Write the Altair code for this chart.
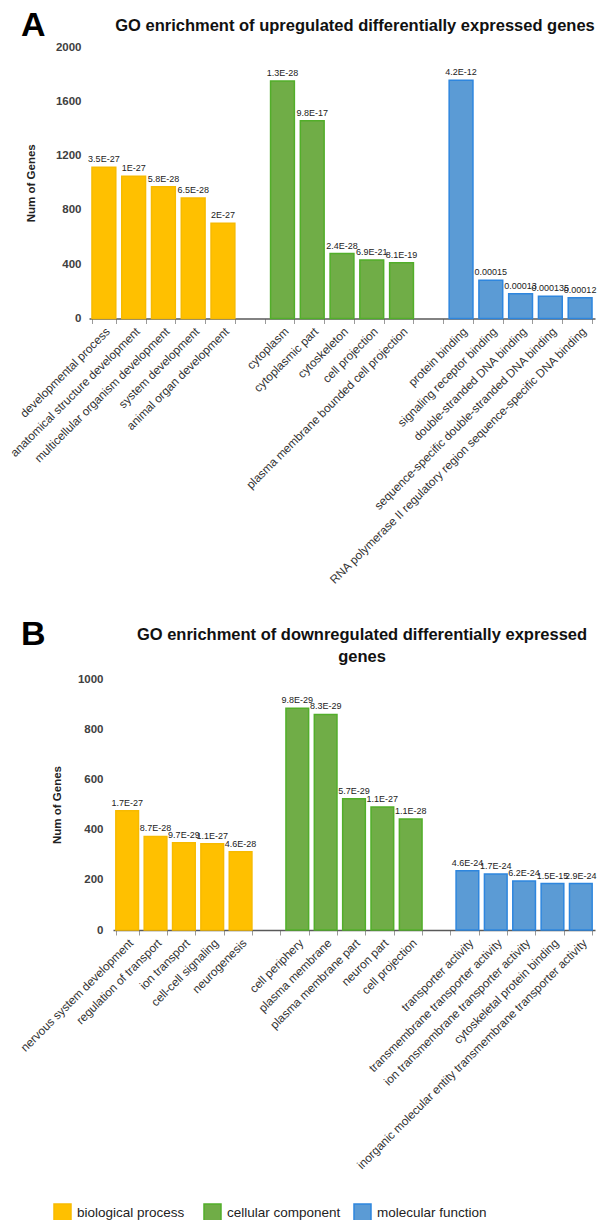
import altair as alt
import pandas as pd

GROUPS = ["biological process", "cellular component", "molecular function"]
FILLS = ["#FFC000", "#70AD47", "#5B9BD5"]
STROKES = ["#F7BA00", "#52AE2A", "#2E86DE"]

# ---- Panel A: upregulated ----
a_bp_terms = ["developmental process", "anatomical structure development",
              "multicellular organism development", "system development",
              "animal organ development"]
a_bp_counts = [1115, 1048, 970, 887, 702]
a_bp_pvals = ["3.5E-27", "1E-27", "5.8E-28", "6.5E-28", "2E-27"]

a_cc_terms = ["cytoplasm", "cytoplasmic part", "cytoskeleton", "cell projection",
              "plasma membrane bounded cell projection"]
a_cc_counts = [1750, 1457, 478, 431, 411]
a_cc_pvals = ["1.3E-28", "9.8E-17", "2.4E-28", "6.9E-21", "8.1E-19"]

a_mf_terms = ["protein binding", "signaling receptor binding",
              "double-stranded DNA binding",
              "sequence-specific double-stranded DNA binding",
              "RNA polymerase II regulatory region sequence-specific DNA binding"]
a_mf_counts = [1755, 281, 182, 164, 152]
a_mf_pvals = ["4.2E-12", "0.00015", "0.00013", "0.000135", "0.00012"]

# ---- Panel B: downregulated ----
b_bp_terms = ["nervous system development", "regulation of transport",
              "ion transport", "cell-cell signaling", "neurogenesis"]
b_bp_counts = [475, 373, 348, 344, 312]
b_bp_pvals = ["1.7E-27", "8.7E-28", "9.7E-29", "1.1E-27", "4.6E-28"]

b_cc_terms = ["cell periphery", "plasma membrane", "plasma membrane part",
              "neuron part", "cell projection"]
b_cc_counts = [883, 859, 523, 490, 442]
b_cc_pvals = ["9.8E-29", "8.3E-29", "5.7E-29", "1.1E-27", "1.1E-28"]

b_mf_terms = ["transporter activity", "transmembrane transporter activity",
              "ion transmembrane transporter activity",
              "cytoskeletal protein binding",
              "inorganic molecular entity transmembrane transporter activity"]
b_mf_counts = [236, 223, 195, 185, 185]
b_mf_pvals = ["4.6E-24", "1.7E-24", "6.2E-24", "1.5E-15", "2.9E-24"]

TITLE_A = "GO enrichment of upregulated differentially expressed genes"
TITLE_B = "GO enrichment of downregulated differentially expressed\ngenes"

FONT = "Liberation Sans"


def build(bp, cc, mf):
    rows = []
    for grp, (terms, counts, pvals) in zip(GROUPS, [bp, cc, mf]):
        for t, c, p in zip(terms, counts, pvals):
            rows.append({"term": t, "count": c, "pval": p, "group": grp})
    domain = list(bp[0]) + [" "] + list(cc[0]) + ["  "] + list(mf[0])
    return pd.DataFrame(rows), domain


def panel(df, domain, ymax, ystep, w, h, letter, lx, ly, title, tx, ty,
          ytitle_x, ylabel_pad):
    xenc = alt.X("term:N", scale=alt.Scale(domain=domain, paddingInner=0.2,
                                             paddingOuter=0.1),
                 axis=alt.Axis(title=None, labelAngle=-45, labelAlign="right",
                               labelBaseline="top", labelPadding=2,
                               labelFont=FONT, labelFontSize=11.8,
                               labelColor="#333333", labelLimit=600,
                               labelOverlap=False, tickBand="extent",
                               tickSize=5, tickColor="#9a9a9a",
                               domainColor="#595959", domainWidth=1.5,
                               grid=False))
    yenc = alt.Y("count:Q", scale=alt.Scale(domain=[0, ymax], nice=False),
                 axis=alt.Axis(title="Num of Genes",
                               values=list(range(0, ymax + 1, ystep)),
                               format="d", labelOverlap=False,
                               grid=False, domain=False, ticks=False,
                               labelPadding=ylabel_pad, labelFont=FONT,
                               labelFontSize=11.5, labelFontWeight="bold",
                               labelColor="#404040", titleFont=FONT,
                               titleFontSize=11.5, titleFontWeight="bold",
                               titleColor="#222222", titleX=ytitle_x,
                               titleY=h / 2, titleAngle=-90,
                               titleAlign="center", titleBaseline="middle"))
    base = alt.Chart(df)
    bars = base.mark_bar(strokeWidth=1.5).encode(
        x=xenc, y=yenc,
        fill=alt.Fill("group:N", scale=alt.Scale(domain=GROUPS, range=FILLS),
                      legend=alt.Legend(title=None, orient="none",
                                        legendX=-36, legendY=1156,
                                        direction="horizontal", columns=3,
                                        symbolType="square", symbolSize=289,
                                        symbolStrokeWidth=1.5,
                                        labelFont=FONT, labelFontSize=13.5,
                                        labelColor="#222222", labelOffset=5,
                                        columnPadding=10, gridAlign="all")),
        stroke=alt.Stroke("group:N",
                          scale=alt.Scale(domain=GROUPS, range=STROKES),
                          legend=None),
    )
    vals = base.mark_text(font=FONT, fontSize=9, baseline="alphabetic",
                          dy=-5, color="#222222").encode(
        x=alt.X("term:N", scale=alt.Scale(domain=domain)), y="count:Q",
        text="pval:N")
    let = alt.Chart(pd.DataFrame({"t": [letter]})).mark_text(
        align="left", baseline="alphabetic", font=FONT, fontSize=34,
        fontWeight="bold", color="#000000").encode(
        text="t:N", x=alt.value(lx), y=alt.value(ly))
    tit = alt.Chart(pd.DataFrame({"t": [title]})).mark_text(
        align="center", baseline="alphabetic", font=FONT, fontSize=16.5,
        fontWeight="bold", color="#111111", lineBreak="\n",
        lineHeight=22).encode(text="t:N", x=alt.value(tx), y=alt.value(ty))
    return alt.layer(bars, vals, let, tit).properties(width=w, height=h)


dfA, domA = build((a_bp_terms, a_bp_counts, a_bp_pvals),
                  (a_cc_terms, a_cc_counts, a_cc_pvals),
                  (a_mf_terms, a_mf_counts, a_mf_pvals))
dfB, domB = build((b_bp_terms, b_bp_counts, b_bp_pvals),
                  (b_cc_terms, b_cc_counts, b_cc_pvals),
                  (b_mf_terms, b_mf_counts, b_mf_pvals))

chartA = panel(dfA, domA, 2000, 200, 506, 271.5, "A", -68, -11.5, TITLE_A,
               266, -16.5, -58, 8)
chartB = panel(dfB, domB, 1000, 100, 482, 251, "B", -92, -34, TITLE_B,
               249, -39, -56, 10)

spacer = alt.Chart(pd.DataFrame({"s": [0]})).mark_point(opacity=0).encode(
    x=alt.value(0), y=alt.value(0)).properties(width=24, height=10)

rowB = alt.hconcat(spacer, chartB, spacing=0, bounds="flush")

chart = alt.vconcat(chartA, rowB, spacing=360, bounds="flush").resolve_scale(
    fill="shared", stroke="shared").properties(
    padding={"left": 0, "top": 0, "right": 0, "bottom": 0},
    background="white").configure_view(stroke=None)

chart.save("out.html", embed_options={"renderer": "svg", "actions": False})
